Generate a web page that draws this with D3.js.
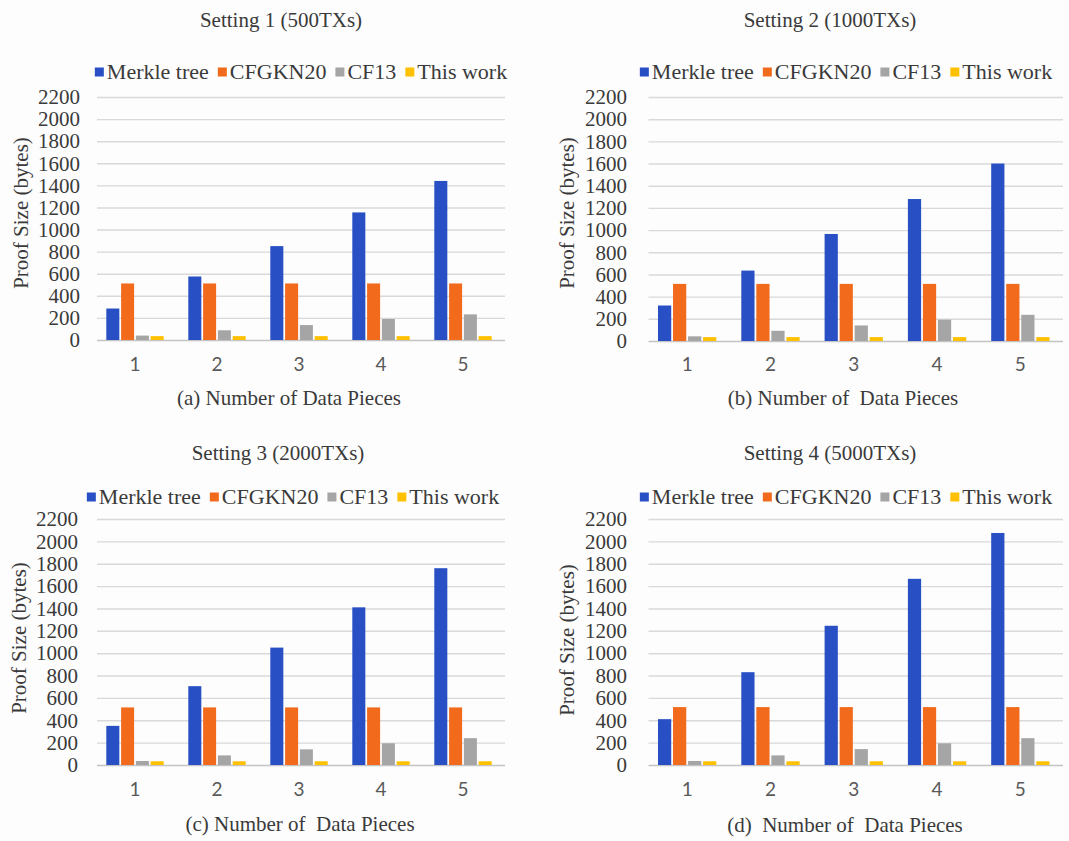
<!DOCTYPE html>
<html>
<head>
<meta charset="utf-8">
<script src="https://cdn.jsdelivr.net/npm/d3@7"></script>
<style>
  html, body { margin: 0; padding: 0; background: #fdfdfd; }
  svg { display: block; }
</style>
</head>
<body>
<div id="chart"></div>
<script>
// categories and series
const pieces = ["1", "2", "3", "4", "5"];
const seriesNames = ["Merkle tree", "CFGKN20", "CF13", "This work"];
const seriesColors = ["#2850c4", "#f26b1d", "#a5a5a5", "#ffc000"];
const yTicks = [0, 200, 400, 600, 800, 1000, 1200, 1400, 1600, 1800, 2000, 2200];

// setting 1 (500 TXs)
const merkleS1 = [285, 575, 850, 1155, 1440];
const cfgknS1 = [512, 512, 512, 512, 512];
const cf13S1 = [40, 88, 135, 190, 232];
const oursS1 = [35, 35, 35, 35, 35];

// setting 2 (1000 TXs)
const merkleS2 = [320, 635, 965, 1280, 1600];
const cfgknS2 = [515, 515, 515, 515, 515];
const cf13S2 = [42, 92, 140, 192, 236];
const oursS2 = [35, 35, 35, 35, 35];

// setting 3 (2000 TXs)
const merkleS3 = [350, 705, 1050, 1410, 1760];
const cfgknS3 = [515, 515, 515, 515, 515];
const cf13S3 = [36, 86, 140, 194, 240];
const oursS3 = [33, 33, 33, 33, 33];

// setting 4 (5000 TXs)
const merkleS4 = [410, 830, 1245, 1665, 2075];
const cfgknS4 = [518, 518, 518, 518, 518];
const cf13S4 = [36, 86, 142, 194, 240];
const oursS4 = [33, 33, 33, 33, 33];

const width = 1069, height = 841;
const SERIF = '"Liberation Serif", "Times New Roman", serif';
const SANS = 'Lato, "Liberation Sans", sans-serif';
const TEXT = "#3a3a3a";

const panels = [
  { title: "Setting 1 (500TXs)", xLabel: "(a) Number of Data Pieces",
    series: [merkleS1, cfgknS1, cf13S1, oursS1],
    xr: [94, 504], yr: [340, 97], titleX: 281, titleY: 27, legendX: 301, legendY: 72,
    tickRight: 80, yTitleX: 21, yTitleY: 213, catY: 365, xTitleX: 289, xTitleY: 405 },
  { title: "Setting 2 (1000TXs)", xLabel: "(b) Number of  Data Pieces",
    series: [merkleS2, cfgknS2, cf13S2, oursS2],
    xr: [645.5, 1062], yr: [341, 97], titleX: 830, titleY: 27, legendX: 846, legendY: 72,
    tickRight: 627, yTitleX: 567, yTitleY: 213, catY: 365, xTitleX: 843, xTitleY: 405 },
  { title: "Setting 3 (2000TXs)", xLabel: "(c) Number of  Data Pieces",
    series: [merkleS3, cfgknS3, cf13S3, oursS3],
    xr: [94, 504], yr: [765, 519], titleX: 278, titleY: 460, legendX: 293, legendY: 497,
    tickRight: 78, yTitleX: 19, yTitleY: 638, catY: 790, xTitleX: 300, xTitleY: 831 },
  { title: "Setting 4 (5000TXs)", xLabel: "(d)  Number of  Data Pieces",
    series: [merkleS4, cfgknS4, cf13S4, oursS4],
    xr: [645.5, 1062], yr: [765, 519], titleX: 830, titleY: 460, legendX: 846, legendY: 497,
    tickRight: 627, yTitleX: 567, yTitleY: 640, catY: 790, xTitleX: 845, xTitleY: 832 }
];

const svg = d3.select("#chart").append("svg")
  .attr("width", width)
  .attr("height", height);

svg.append("rect").attr("width", width).attr("height", height).attr("fill", "#fdfdfd");

panels.forEach(drawPanel);

function serifText(sel, size) {
  return sel.style("font-family", SERIF).style("font-size", size + "px").style("fill", TEXT);
}

function drawPanel(p) {
  const g = svg.append("g");
  const x0 = d3.scaleBand().domain(pieces).range(p.xr).paddingInner(0.3).paddingOuter(0.15);
  const x1 = d3.scaleBand().domain(seriesNames).range([0, x0.bandwidth()]).paddingInner(0.12);
  const y = d3.scaleLinear().domain([0, 2200]).range(p.yr);

  const gridStart = p.xr[0] + 3;
  const gridEnd = p.xr[1] + 1;

  // y axis with gridlines
  const yAxis = g.append("g")
    .attr("transform", `translate(${gridStart},0)`)
    .call(d3.axisLeft(y).tickValues(yTicks).tickSize(-(gridEnd - gridStart))
      .tickPadding(gridStart - p.tickRight).tickFormat(d3.format("d")));
  yAxis.select(".domain").remove();
  yAxis.selectAll("line")
    .attr("stroke", (d) => (d === 0 ? "#c4c4c4" : "#d9d9d9"))
    .attr("stroke-width", 1.4);
  serifText(yAxis.selectAll("text"), 21);

  // bars
  const groups = g.selectAll(".grp")
    .data(pieces)
    .enter()
    .append("g")
    .attr("transform", (d) => `translate(${x0(d)},0)`);
  groups.selectAll("rect")
    .data((d, i) => seriesNames.map((s, k) => ({ s, k, v: p.series[k][i] })))
    .enter()
    .append("rect")
    .attr("x", (d) => x1(d.s))
    .attr("width", x1.bandwidth())
    .attr("y", (d) => y(d.v))
    .attr("height", (d) => y(0) - y(d.v))
    .attr("fill", (d) => seriesColors[d.k]);

  // category axis
  const xAxis = g.append("g")
    .attr("transform", `translate(0,${p.yr[0]})`)
    .call(d3.axisBottom(x0).tickSize(0).tickPadding(p.catY - p.yr[0] - 7));
  xAxis.select(".domain").remove();
  xAxis.selectAll("text")
    .style("font-family", SANS)
    .style("font-size", "19px")
    .style("fill", "#595959");

  // title
  serifText(g.append("text"), 21)
    .attr("x", p.titleX)
    .attr("y", p.titleY)
    .attr("text-anchor", "middle")
    .text(p.title);

  // x title
  serifText(g.append("text"), 21)
    .attr("x", p.xTitleX)
    .attr("y", p.xTitleY)
    .attr("text-anchor", "middle")
    .style("white-space", "pre")
    .text(p.xLabel);

  // y title
  serifText(g.append("text"), 21)
    .attr("transform", `translate(${p.yTitleX},${p.yTitleY}) rotate(-90)`)
    .attr("text-anchor", "middle")
    .attr("dy", "0.35em")
    .text("Proof Size (bytes)");

  // legend
  const leg = g.append("g");
  const sq = 9, gapIn = 3, gapOut = 9;
  let cx = 0;
  seriesNames.forEach((name, k) => {
    const item = leg.append("g").attr("transform", `translate(${cx},0)`);
    item.append("rect")
      .attr("x", 0)
      .attr("y", p.legendY - sq / 2)
      .attr("width", sq)
      .attr("height", sq)
      .attr("fill", seriesColors[k]);
    const t = serifText(item.append("text"), 22)
      .attr("x", sq + gapIn)
      .attr("y", p.legendY)
      .attr("dy", "0.33em")
      .text(name);
    cx += sq + gapIn + t.node().getComputedTextLength() + gapOut;
  });
  const total = cx - gapOut;
  leg.attr("transform", `translate(${p.legendX - total / 2},0)`);
}
</script>
</body>
</html>
